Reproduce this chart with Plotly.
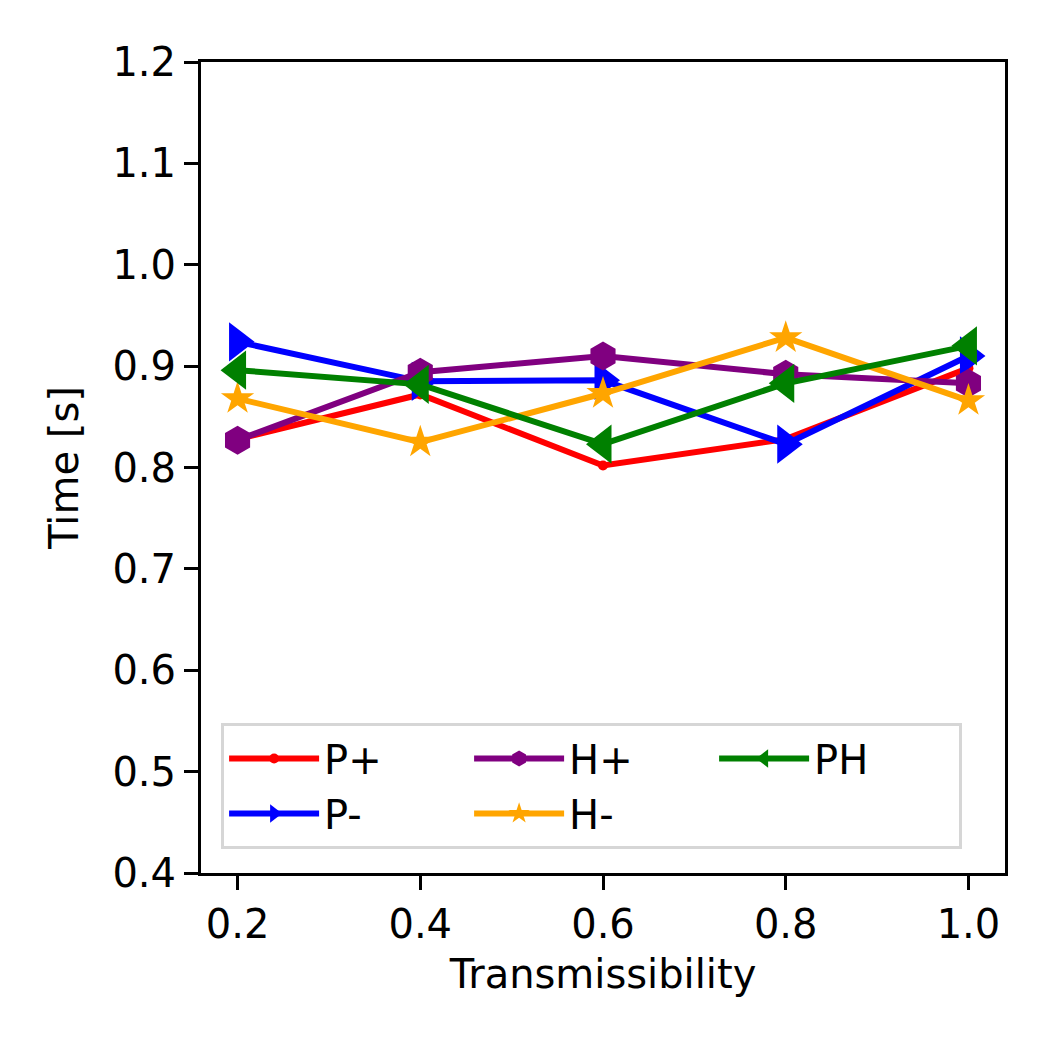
import plotly.graph_objects as go

# transmissibility values on the x axis
trans = [0.2, 0.4, 0.6, 0.8, 1.0]

# measured time [s] for each strategy
p_plus = [0.828, 0.872, 0.802, 0.828, 0.898]
p_minus = [0.924, 0.885, 0.886, 0.823, 0.910]
h_plus = [0.827, 0.894, 0.910, 0.892, 0.883]
h_minus = [0.868, 0.825, 0.873, 0.928, 0.866]
ph = [0.896, 0.882, 0.823, 0.883, 0.920]

names = ["P+", "P-", "H+", "H-", "PH"]
series = [p_plus, p_minus, h_plus, h_minus, ph]
colors = ["red", "blue", "purple", "orange", "green"]
symbols = ["circle", "triangle-right", "hexagon", "star", "triangle-left"]
sizes = [10, 34, 29, 25, 34]
ranks = [1, 4, 2, 5, 3]  # legend reads column-wise like matplotlib ncol=3

fig = go.Figure()
for name, vals, col, sym, sz, rk in zip(names, series, colors, symbols, sizes, ranks):
    fig.add_scatter(x=trans, y=vals, name=name, mode="lines+markers",
                    line=dict(color=col, width=6),
                    marker=dict(color=col, symbol=sym, size=sz, line=dict(width=0)),
                    legendrank=rk)

axis_style = dict(showline=True, linecolor="black", linewidth=3, mirror=True,
                  ticks="outside", ticklen=14, tickwidth=3, tickcolor="black",
                  showgrid=False, zeroline=False,
                  tickfont=dict(size=40, color="black"))

fig.update_layout(
    width=1050, height=1050,
    margin=dict(l=193, r=53, t=54, b=185),
    paper_bgcolor="white", plot_bgcolor="white",
    font=dict(family="DejaVu Sans", size=40, color="black"),
    xaxis=dict(title=dict(text="Transmissibility", font=dict(size=40), standoff=14),
               range=[0.16, 1.04], tickvals=trans, tickformat=".1f", **axis_style),
    yaxis=dict(title=dict(text="Time [s]", font=dict(size=40), standoff=22),
               range=[0.4, 1.2], dtick=0.1, tickformat=".1f", **axis_style),
    legend=dict(orientation="h", x=0.025, y=0.185, xanchor="left", yanchor="top",
                bordercolor="#d6d6d6", borderwidth=3, bgcolor="white",
                font=dict(size=40), itemwidth=90, entrywidth=140,
                traceorder="normal"),
)

fig.write_html("out.html")
